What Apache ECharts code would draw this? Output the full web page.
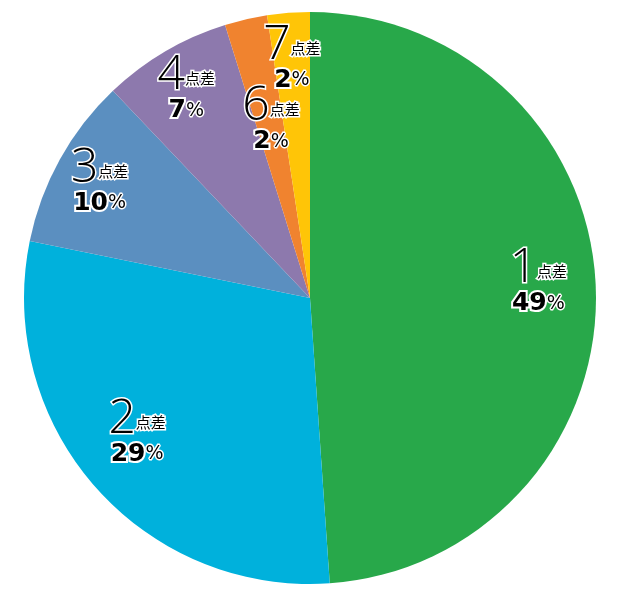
<!DOCTYPE html>
<html><head><meta charset="utf-8">
<script src="https://cdn.jsdelivr.net/npm/echarts@6/dist/echarts.min.js"></script>
<style>html,body{margin:0;padding:0;background:#fff}#c{width:625px;height:597px}</style>
</head><body><div id="c"></div>
<script>
const categories = ['1点差','2点差','3点差','4点差','6点差','7点差'];
const values = [48.9, 29.3, 9.7, 7.3, 2.4, 2.4];
const colors = ['#28a84a','#00b1dc','#5b8fc0','#8d79ad','#f0832f','#ffc507'];

const chart = echarts.init(document.getElementById('c'), null, {renderer:'canvas'});
const pieData = categories.map((c,i)=>({name:c, value:values[i], itemStyle:{color:colors[i]}}));
const total = values.reduce((a,b)=>a+b,0);
const halo = {textBorderColor:'#fff', textBorderWidth:3, color:'#000'};
chart.setOption({
  animation:false,
  series:[
    {type:'pie', center:[310,298], radius:286, startAngle:90, clockwise:true,
     data:pieData, label:{show:false}, labelLine:{show:false}, silent:true},
    {type:'pie', center:[310,298], radius:[189,286], startAngle:90, clockwise:true,
     data:pieData.map(d=>({name:d.name,value:d.value})), silent:true,
     itemStyle:{color:'rgba(0,0,0,0)'},
     labelLine:{show:false},
     labelLayout:function(p){
       if (p.dataIndex===1) return {dx:8, dy:-24};
       if (p.dataIndex===4) return {dx:15, dy:56};
       if (p.dataIndex===0) return {dx:-12, dy:-8};
       if (p.dataIndex===3) return {dx:-2, dy:-2};
       return {};
     },
     label:{show:true, position:'inside',
       formatter:function(p){
         const n = p.name.replace('点差','');
         return '{n|'+n+'}{u|点差}\n{p|'+Math.round(p.value/total*100)+'}{s|%}';
       },
       rich:{
         n:Object.assign({fontFamily:'Open Sans', fontWeight:300, fontSize:48, lineHeight:44}, halo),
         u:Object.assign({fontFamily:'Noto Sans CJK JP', fontSize:15, lineHeight:20, padding:[6,0,0,0]}, halo),
         p:Object.assign({fontFamily:'DejaVu Sans', fontWeight:'bold', fontSize:25, lineHeight:26}, halo, {textBorderWidth:4}),
         s:Object.assign({fontFamily:'DejaVu Sans', fontSize:19, lineHeight:26}, halo)
       }
     }}
  ]
});
</script></body></html>
